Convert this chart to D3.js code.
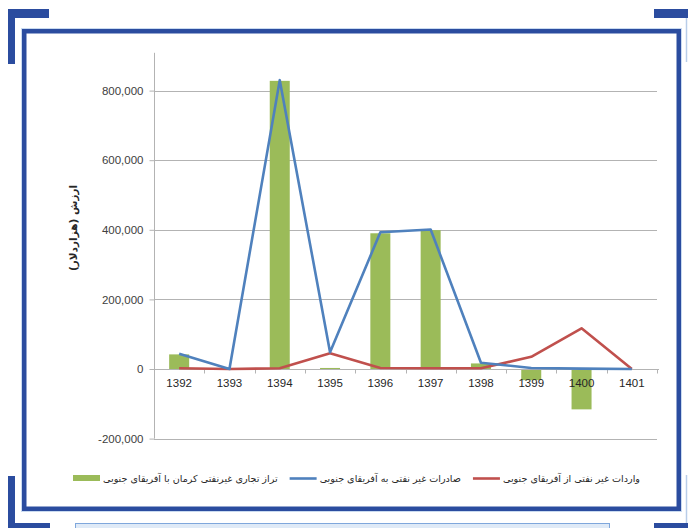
<!DOCTYPE html>
<html>
<head>
<meta charset="utf-8">
<script src="https://cdn.jsdelivr.net/npm/d3@7"></script>
<style>
  html, body { margin: 0; padding: 0; background: #fff; }
  svg { display: block; }
</style>
</head>
<body>
<svg id="chart" width="688" height="528"></svg>
<script>
// Years (Solar Hijri)
const years = ["1392", "1393", "1394", "1395", "1396", "1397", "1398", "1399", "1400", "1401"];
// Kerman non-oil trade balance with South Africa (thousand USD)
const tradeBalance = [42000, 0, 828000, 3000, 390000, 399000, 16000, -32000, -116000, 0];
// Non-oil exports to South Africa
const exportsSA = [44000, 0, 830000, 48000, 393000, 401000, 18000, 3000, 1000, 0];
// Non-oil imports from South Africa
const importsSA = [2000, 0, 2000, 45000, 3000, 2000, 2000, 35000, 117000, 0];
// Value axis ticks
const yTicks = [-200000, 0, 200000, 400000, 600000, 800000];

const legendLabels = [
  "تراز تجاری غیرنفتی کرمان با آفریقای جنوبی",
  "صادرات غیر نفتی به آفریقای جنوبی",
  "واردات غیر نفتی از آفریقای جنوبی"
];
const yTitle = "ارزش (هزاردلار)";

const colors = { bar: "#9bbb59", exp: "#4f81bd", imp: "#c0504d", frame: "#2b4c9f", grid: "#b3b3b3" };
const persianFont = "'DejaVu Sans', sans-serif";
const numFont = "'Liberation Sans', Arial, sans-serif";

const svg = d3.select("#chart");

// ---- decorative frame ----
const deco = svg.append("g");
deco.append("rect").attr("x", 24.25).attr("y", 31.25).attr("width", 654.5).attr("height", 477.5)
  .attr("fill", "none").attr("stroke", colors.frame).attr("stroke-width", 4.5);
deco.append("rect").attr("x", 21.5).attr("y", 28.5).attr("width", 660).attr("height", 483)
  .attr("fill", "none").attr("stroke", "#c9daf0").attr("stroke-width", 1);
// corner brackets
[[8, 9, 41, 9], [8, 9, 7, 55], [8, 476, 7, 52], [8, 523, 42, 5], [654, 9, 34, 9], [654, 523, 34, 5]]
  .forEach(([x, y, w, h]) => deco.append("rect").attr("x", x).attr("y", y).attr("width", w).attr("height", h).attr("fill", colors.frame));
deco.append("line").attr("x1", 686.5).attr("x2", 686.5).attr("y1", 18).attr("y2", 62).attr("stroke", "#b8cde9").attr("stroke-width", 1.5);
deco.append("line").attr("x1", 686.5).attr("x2", 686.5).attr("y1", 475).attr("y2", 523).attr("stroke", "#b8cde9").attr("stroke-width", 1.5);
deco.append("rect").attr("x", 75.5).attr("y", 523.5).attr("width", 534).attr("height", 6)
  .attr("fill", "#dfeaf7").attr("stroke", "#7fa7dc").attr("stroke-width", 1);

// ---- scales ----
const plotLeft = 154, plotRight = 657;
const x = d3.scaleBand().domain(years).range([plotLeft, plotRight]);
const y = d3.scaleLinear().domain([-200000, 900000]).range([438.6, 55.8]);
const cx = d => x(d) + x.bandwidth() / 2;
const barW = 20;

// gridlines
svg.append("g").selectAll("line").data(yTicks.filter(v => v !== 0)).join("line")
  .attr("x1", plotLeft).attr("x2", plotRight)
  .attr("y1", d => Math.round(y(d)) + 0.5).attr("y2", d => Math.round(y(d)) + 0.5)
  .attr("stroke", colors.grid).attr("stroke-width", 1);

// bars
svg.append("g").selectAll("rect").data(years).join("rect")
  .attr("x", d => cx(d) - barW / 2)
  .attr("width", barW)
  .attr("y", (d, i) => y(Math.max(0, tradeBalance[i])))
  .attr("height", (d, i) => Math.abs(y(tradeBalance[i]) - y(0)))
  .attr("fill", colors.bar);

// y axis
const yAxis = svg.append("g").attr("transform", `translate(${plotLeft + 0.5},0)`)
  .call(d3.axisLeft(y).tickValues(yTicks).tickSize(5).tickPadding(6)
    .tickFormat(d => d3.format(",")(d).replace("−", "-")));
yAxis.select(".domain").attr("d", `M0,${y(900000) - 3}V${y(-200000)}`).attr("stroke", colors.grid);
yAxis.selectAll(".tick line").attr("stroke", colors.grid);
yAxis.selectAll(".tick text").attr("font-family", numFont).attr("font-size", 11.5).attr("fill", "#404040");

// x axis on the zero line
const y0 = Math.round(y(0)) + 0.5;
const xAxis = svg.append("g").attr("transform", `translate(0,${y0})`)
  .call(d3.axisBottom(x).tickSize(0).tickPadding(9));
xAxis.select(".domain").attr("stroke", colors.grid).attr("d", `M${plotLeft},0H${plotRight + 2}`);
xAxis.selectAll(".tick text").attr("font-family", numFont).attr("font-size", 11.5).attr("fill", "#262626");
// tick marks between categories
svg.append("g").selectAll("line").data(years.concat(["end"])).join("line")
  .attr("x1", (d, i) => Math.round(plotLeft + i * x.bandwidth()) + 0.5)
  .attr("x2", (d, i) => Math.round(plotLeft + i * x.bandwidth()) + 0.5)
  .attr("y1", y0).attr("y2", y0 + 4)
  .attr("stroke", colors.grid);

// lines
const lineGen = d3.line().x(d => cx(d[0])).y(d => y(d[1]));
svg.append("path").datum(years.map((d, i) => [d, importsSA[i]]))
  .attr("d", lineGen).attr("fill", "none").attr("stroke", colors.imp).attr("stroke-width", 2.6).attr("stroke-linejoin", "round");
svg.append("path").datum(years.map((d, i) => [d, exportsSA[i]]))
  .attr("d", lineGen).attr("fill", "none").attr("stroke", colors.exp).attr("stroke-width", 2.6).attr("stroke-linejoin", "round");

// y axis title
svg.append("text")
  .attr("transform", "translate(74,228) rotate(-90)")
  .attr("text-anchor", "middle").attr("dominant-baseline", "middle")
  .attr("direction", "rtl")
  .attr("font-family", persianFont).attr("font-size", 10.5).attr("font-weight", "bold").attr("fill", "#262626")
  .text(yTitle);

// legend: swatch on the left of each label, items laid out left to right
const legendItems = [
  { label: legendLabels[0], color: colors.bar, type: "bar" },
  { label: legendLabels[1], color: colors.exp, type: "line" },
  { label: legendLabels[2], color: colors.imp, type: "line" }
];
const lg = svg.append("g");
let cursor = 73;
const swW = 27, gapText = 3, gapItem = 12;
legendItems.forEach(it => {
  if (it.type === "bar") {
    lg.append("rect").attr("x", cursor).attr("y", 475).attr("width", swW).attr("height", 6).attr("fill", it.color);
  } else {
    lg.append("line").attr("x1", cursor).attr("x2", cursor + swW).attr("y1", 478.5).attr("y2", 478.5)
      .attr("stroke", it.color).attr("stroke-width", 2.6);
  }
  const t = lg.append("text")
    .attr("x", cursor + swW + gapText).attr("y", 479)
    .attr("text-anchor", "end").attr("direction", "rtl")
    .attr("dominant-baseline", "middle")
    .attr("font-family", persianFont).attr("font-size", 9.6).attr("fill", "#262626")
    .text(it.label);
  cursor += swW + gapText + t.node().getComputedTextLength() + gapItem;
});
</script>
</body>
</html>
